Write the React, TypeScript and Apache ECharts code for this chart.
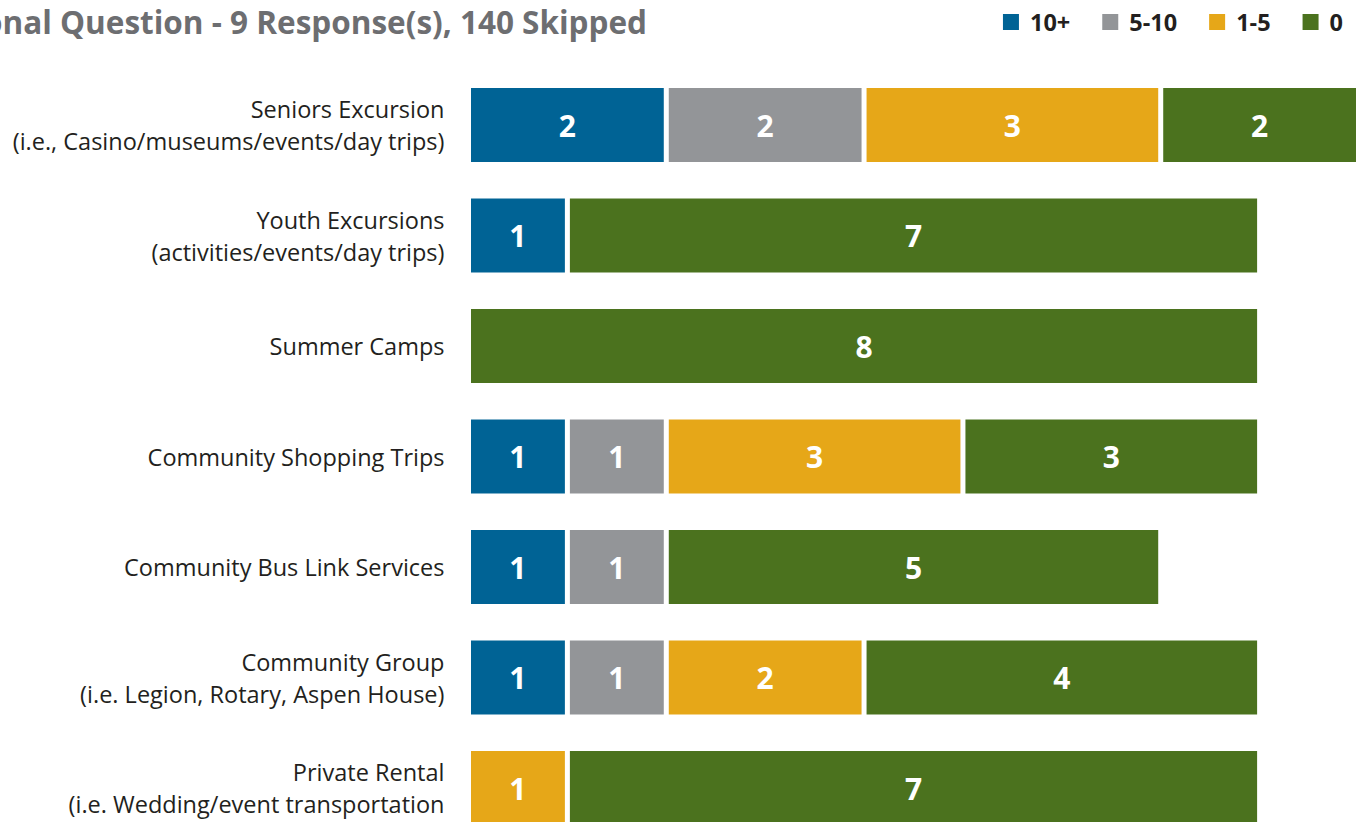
import React, { useEffect, useRef } from "react";
import * as echarts from "echarts";

const categories = [
  "Seniors Excursion\n(i.e., Casino/museums/events/day trips)",
  "Youth Excursions\n(activities/events/day trips)",
  "Summer Camps",
  "Community Shopping Trips",
  "Community Bus Link Services",
  "Community Group\n(i.e. Legion, Rotary, Aspen House)",
  "Private Rental\n(i.e. Wedding/event transportation",
];
const seriesNames = ["10+", "5-10", "1-5", "0"];
const colors = ["#006395", "#939598", "#e6a718", "#4b721e"];
const v10plus = [2, 1, 0, 1, 1, 1, 0];
const v5to10 = [2, 0, 0, 1, 1, 1, 0];
const v1to5 = [3, 0, 0, 3, 0, 2, 1];
const v0 = [2, 7, 8, 3, 5, 4, 7];
const values = [v10plus, v5to10, v1to5, v0];
const titleText = "Optional Question - 9 Response(s), 140 Skipped";

const FONT = "'Open Sans', 'Noto Sans', sans-serif";

export default function App() {
  const ref = useRef<HTMLDivElement>(null);
  useEffect(() => {
    if (!ref.current) return;
    const chart = echarts.init(ref.current, null, { renderer: "svg" });
    chart.setOption({
      animation: false,
      textStyle: { fontFamily: FONT },
      title: {
        text: titleText,
        right: 713,
        top: 5,
        padding: 0,
        textStyle: { fontFamily: FONT, fontSize: 31.5, fontWeight: "bold", color: "#6d6e71" },
      },
      legend: {
        right: 12,
        top: 5,
        icon: "rect",
        itemWidth: 18,
        itemHeight: 18,
        itemGap: 30,
        textStyle: {
          fontFamily: FONT,
          fontSize: 23.5,
          fontWeight: "bold",
          color: "#231f20",
          padding: [0, 0, 0, 5],
        },
        data: seriesNames,
      },
      grid: {
        left: 468.5,
        top: 69.75,
        width: 890,
        height: 773.5,
        containLabel: false,
        outerBoundsMode: "none",
      },
      xAxis: {
        type: "value",
        min: 0,
        max: 9,
        show: false,
      },
      yAxis: {
        type: "category",
        inverse: true,
        data: categories,
        axisLine: { show: false },
        axisTick: { show: false },
        axisLabel: {
          margin: 24,
          fontFamily: FONT,
          fontSize: 23.5,
          lineHeight: 32,
          color: "#231f20",
          align: "right",
          padding: [0, 0, 6, 0],
        },
      },
      series: seriesNames.map((name, i) => ({
        name,
        type: "bar",
        stack: "total",
        barWidth: 79,
        data: values[i].map((v) => (v === 0 ? null : v)),
        itemStyle: { color: colors[i], borderColor: "#ffffff", borderWidth: 2.5 },
        label: {
          show: true,
          position: "inside",
          color: "#ffffff",
          fontFamily: FONT,
          fontSize: 30,
          fontWeight: "bold",
        },
      })),
    });
    return () => chart.dispose();
  }, []);
  return (
    <div
      ref={ref}
      style={{ position: "fixed", left: 0, top: 0, width: 1360, height: 822, background: "#ffffff" }}
    />
  );
}
